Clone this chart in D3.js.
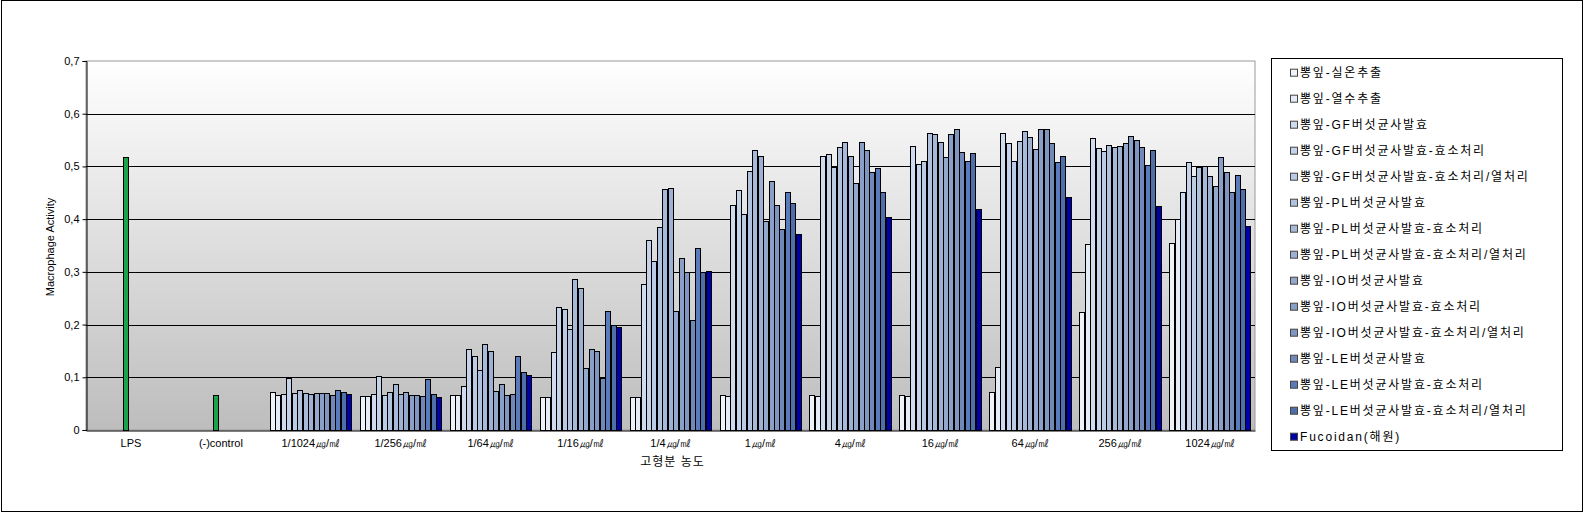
<!DOCTYPE html>
<html><head><meta charset="utf-8">
<script src="https://cdn.jsdelivr.net/npm/d3@7"></script>
<style>
html,body{margin:0;padding:0;background:#fff;}
svg{display:block;font-family:"Liberation Sans","Noto Sans CJK KR",sans-serif;}
</style></head>
<body><svg id="c" width="1585" height="514"></svg>
<script>
const categories = ["LPS","(-)control","1/1024㎍/㎖","1/256㎍/㎖","1/64㎍/㎖","1/16㎍/㎖","1/4㎍/㎖","1㎍/㎖","4㎍/㎖","16㎍/㎖","64㎍/㎖","256㎍/㎖","1024㎍/㎖"];
const seriesNames = ["뽕잎-실온추출","뽕잎-열수추출","뽕잎-GF버섯균사발효","뽕잎-GF버섯균사발효-효소처리","뽕잎-GF버섯균사발효-효소처리/열처리","뽕잎-PL버섯균사발효","뽕잎-PL버섯균사발효-효소처리","뽕잎-PL버섯균사발효-효소처리/열처리","뽕잎-IO버섯균사발효","뽕잎-IO버섯균사발효-효소처리","뽕잎-IO버섯균사발효-효소처리/열처리","뽕잎-LE버섯균사발효","뽕잎-LE버섯균사발효-효소처리","뽕잎-LE버섯균사발효-효소처리/열처리","Fucoidan(해원)"];
const s0  = [null,null,0.072,0.064,0.066,0.063,0.063,0.066,0.066,0.066,0.073,0.224,0.354];
const s1  = [null,null,0.066,0.064,0.066,0.063,0.063,0.064,0.064,0.064,0.119,0.353,0.400];
const s2  = [null,null,0.068,0.068,0.084,0.148,0.277,0.427,0.520,0.539,0.563,0.554,0.451];
const s3  = [null,null,0.098,0.102,0.153,0.234,0.360,0.455,0.523,0.504,0.544,0.535,0.508];
const s4  = [null,null,0.070,0.066,0.140,0.229,0.321,0.410,0.499,0.510,0.510,0.529,0.482];
const s5  = [null,null,0.075,0.073,0.113,0.192,0.385,0.492,0.537,0.564,0.548,0.541,0.499];
const s6  = [0.518,0.066,0.070,0.087,0.163,0.287,0.458,0.531,0.546,0.561,0.567,0.537,0.501];
const s7  = [null,null,0.068,0.068,0.149,0.270,0.459,0.520,0.520,0.546,0.556,0.539,0.482];
const s8  = [null,null,0.070,0.072,0.074,0.117,0.225,0.397,0.469,0.518,0.533,0.544,0.463];
const s9  = [null,null,0.070,0.066,0.087,0.153,0.326,0.472,0.546,0.561,0.571,0.558,0.518];
const s10 = [null,null,0.070,0.066,0.066,0.150,0.299,0.427,0.531,0.571,0.571,0.550,0.489];
const s11 = [null,null,0.066,0.064,0.068,0.099,0.208,0.382,0.490,0.527,0.544,0.537,0.451];
const s12 = [null,null,0.075,0.096,0.141,0.225,0.345,0.452,0.497,0.510,0.508,0.503,0.484];
const s13 = [null,null,0.072,0.068,0.110,0.199,0.299,0.431,0.452,0.525,0.520,0.531,0.457];
const s14 = [null,null,0.068,0.062,0.104,0.196,0.302,0.372,0.404,0.420,0.442,0.425,0.387];
const seriesValues = [s0,s1,s2,s3,s4,s5,s6,s7,s8,s9,s10,s11,s12,s13,s14];
const seriesColors = ["#eef2f9","#e6ecf6","#cfdbee","#c5d3ea","#bccbe4","#b1c2de","#a8bad9","#9eb1d3","#94a8cd","#8a9fc7","#8096c1","#7089b8","#5a7bbb","#4f6fa8","#0000a8"];
const controlCategories = ["LPS","(-)control"];
const controlColor = "#1aa34a";
const yTicks = [0,0.1,0.2,0.3,0.4,0.5,0.6,0.7];
const yTitle = "Macrophage Activity";
const xTitle = "고형분 농도";

const svg = d3.select("#c");
const L = 86, R = 1255, T = 61, B = 430;

svg.append("rect").attr("x",1.5).attr("y",0.5).attr("width",1581).attr("height",511)
  .attr("fill","#fff").attr("stroke","#000").attr("stroke-width",1);

const defs = svg.append("defs");
const g = defs.append("linearGradient").attr("id","bg").attr("x1",0).attr("y1",0).attr("x2",0).attr("y2",1);
g.append("stop").attr("offset","0%").attr("stop-color","#ffffff");
g.append("stop").attr("offset","100%").attr("stop-color","#bdbdbd");

svg.append("rect").attr("x",L).attr("y",T).attr("width",R-L).attr("height",B-T).attr("fill","url(#bg)")
  .attr("stroke","#999").attr("stroke-width",1);

const x = d3.scaleBand().domain(categories).range([L,R]).padding(0);
const xi = d3.scaleBand().domain(d3.range(seriesNames.length)).range([0,x.bandwidth()]).paddingInner(0).paddingOuter(0.75);
const y = d3.scaleLinear().domain([0,0.7]).range([B,T]);

svg.append("g").selectAll("line").data(yTicks.filter(d=>d>0 && d<0.7)).join("line")
  .attr("x1",L).attr("x2",R).attr("y1",d=>Math.round(y(d))+0.5).attr("y2",d=>Math.round(y(d))+0.5)
  .attr("stroke","#000").attr("stroke-width",1);

const bars = [];
seriesValues.forEach((arr,si)=>{
  arr.forEach((v,ci)=>{
    if(v==null) return;
    const cat = categories[ci];
    const isCtrl = controlCategories.includes(cat);
    bars.push({si,cat,v,color: isCtrl ? controlColor : seriesColors[si]});
  });
});
svg.append("g").attr("shape-rendering","crispEdges").selectAll("rect").data(bars).join("rect")
  .attr("x",d=>Math.round(x(d.cat)+xi(d.si))+0.5)
  .attr("width",d=>Math.round(xi.bandwidth()))
  .attr("y",d=>Math.round(y(d.v))+0.5)
  .attr("height",d=>Math.round(y(0))-Math.round(y(d.v)))
  .attr("fill",d=>d.color).attr("stroke","#000").attr("stroke-width",1);

const yAxis = d3.axisLeft(y).tickValues(yTicks).tickSize(4).tickPadding(3)
  .tickFormat(d=> d===0 ? "0" : d3.format(".1f")(d).replace(".",","));
const ya = svg.append("g").attr("transform",`translate(${L+0.5},0)`).call(yAxis);
ya.select(".domain").attr("stroke","#000");
ya.selectAll(".tick line").attr("stroke","#000");
ya.selectAll("text").attr("font-size",11).attr("fill","#000");

const xAxis = d3.axisBottom(x).tickSize(0).tickPadding(9);
const xa = svg.append("g").attr("transform",`translate(0,${B+0.5})`).call(xAxis);
xa.select(".domain").attr("stroke","#000");
xa.selectAll("text").attr("font-size",11).attr("fill","#000");

svg.append("text").attr("transform",`translate(54,247) rotate(-90)`).attr("text-anchor","middle")
  .attr("font-size",11).text(yTitle);
svg.append("text").attr("x",(L+R)/2+2).attr("y",466).attr("text-anchor","middle")
  .attr("font-size",12).attr("letter-spacing",1).text(xTitle);

svg.append("rect").attr("x",1271.5).attr("y",58.5).attr("width",291).attr("height",392)
  .attr("fill","#fff").attr("stroke","#000").attr("stroke-width",1);
const lg = svg.append("g").selectAll("g").data(seriesNames).join("g")
  .attr("transform",(d,i)=>`translate(1290,${72.7+i*26})`);
lg.append("rect").attr("x",0.5).attr("y",-3.5).attr("width",7).attr("height",7)
  .attr("fill",(d,i)=>seriesColors[i]).attr("stroke","#444").attr("stroke-width",1);
lg.append("text").attr("x",10).attr("y",4.5).attr("font-size",12).attr("letter-spacing",1.8).text(d=>d);
</script></body></html>
